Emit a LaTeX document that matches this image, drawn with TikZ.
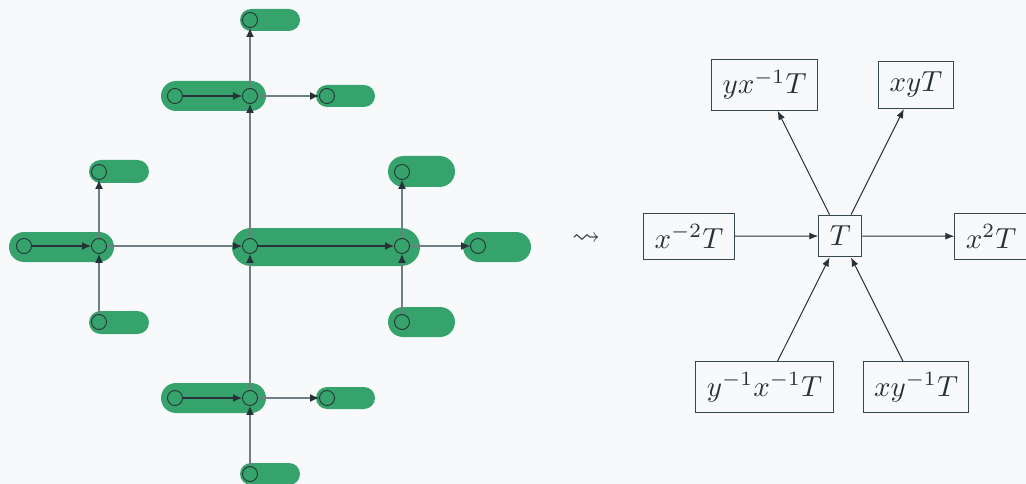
\documentclass[tikz,border=0pt]{standalone}
\usepackage{amssymb}
\usetikzlibrary{arrows.meta}
\definecolor{bg}{HTML}{F8F9FA}
\definecolor{blob}{HTML}{37A36C}
\definecolor{ink}{HTML}{263238}
\definecolor{link}{HTML}{6F7F84}
\definecolor{boxline}{HTML}{37474F}
\newcommand{\bigmath}[1]{\scalebox{2.9}{$#1$}}
\begin{document}
\begin{tikzpicture}[x=1pt,y=-1pt,
  dot/.style={circle,draw=ink,line width=0.9pt,minimum size=15pt,inner sep=0pt},
  inlink/.style={draw=ink,line width=1.2pt,-{Latex[length=9pt,width=8pt]}},
  outlink/.style={draw=link,line width=1.2pt,-{Latex[length=9pt,width=8pt,color=ink]}},
  term/.style={draw=boxline,line width=1pt,text=ink,inner sep=11pt},
  rel/.style={draw=ink,line width=1pt,-{Latex[length=9pt,width=7pt]}}]
\fill[bg] (0,0) rectangle (1026,484);
\useasboundingbox (0,0) rectangle (1026,484);
% blobs
\fill[blob, rounded corners=15pt] (9,232) rectangle (114,262);
\fill[blob, rounded corners=11.5pt] (89,160) rectangle (149,183);
\fill[blob, rounded corners=11.5pt] (89,311) rectangle (149,334);
\fill[blob, rounded corners=19pt] (232,228) rectangle (420,266);
\fill[blob, rounded corners=15pt] (463,232) rectangle (531,262);
\fill[blob, rounded corners=15.5pt] (388,156) rectangle (455,187);
\fill[blob, rounded corners=15pt] (388,307) rectangle (455,337);
\fill[blob, rounded corners=11pt] (240,9) rectangle (300,31);
\fill[blob, rounded corners=15pt] (161,81) rectangle (266,111);
\fill[blob, rounded corners=11pt] (316,85) rectangle (375,107);
\fill[blob, rounded corners=15pt] (161,383) rectangle (266,413);
\fill[blob, rounded corners=11pt] (316,387) rectangle (375,409);
\fill[blob, rounded corners=11pt] (240,463) rectangle (300,485);
% circles
\node[dot] (l1) at (24,246) {};
\node[dot] (l2) at (99,246) {};
\node[dot] (c1) at (250,246) {};
\node[dot] (c2) at (402,246) {};
\node[dot] (r1) at (478,246) {};
\node[dot] (lt) at (99,172) {};
\node[dot] (lb) at (99,322) {};
\node[dot] (rt) at (402,172) {};
\node[dot] (rb) at (402,322) {};
\node[dot] (um1) at (175,96) {};
\node[dot] (um2) at (250,96) {};
\node[dot] (ur) at (327,96) {};
\node[dot] (top) at (250,20) {};
\node[dot] (lm1) at (175,398) {};
\node[dot] (lm2) at (250,398) {};
\node[dot] (lr) at (327,398) {};
\node[dot] (bot) at (250,474) {};
% links
\draw[inlink] (l1) -- (l2);
\draw[inlink] (c1) -- (c2);
\draw[inlink] (um1) -- (um2);
\draw[inlink] (lm1) -- (lm2);
\draw[outlink] (l2) -- (lt);
\draw[outlink] (lb) -- (l2);
\draw[outlink] (l2) -- (c1);
\draw[outlink] (c2) -- (r1);
\draw[outlink] (c2) -- (rt);
\draw[outlink] (rb) -- (c2);
\draw[outlink] (c1) -- (um2);
\draw[outlink] (um2) -- (top);
\draw[outlink] (um2) -- (ur);
\draw[outlink] (lm2) -- (c1);
\draw[outlink] (lm2) -- (lr);
\draw[outlink] (bot) -- (lm2);
% squiggle
\node[text=ink] (sq) at (586,239) {\scalebox{2.8}{$\rightsquigarrow$}};
% right diagram
\node[term] (T) at (840.3,236) {\bigmath{T}};
\node[term] (xm2) at (689,236.3) {\bigmath{x^{-2}T}};
\node[term, anchor=west] (x2) at (954.3,236.3) {\bigmath{x^{2}T}};
\node[term] (yxm) at (764.5,84.7) {\bigmath{yx^{-1}T}};
\node[term] (xy) at (916,84.8) {\bigmath{xyT}};
\node[term] (ymxm) at (764.5,387.3) {\bigmath{y^{-1}x^{-1}T}};
\node[term] (xym) at (916,387.3) {\bigmath{xy^{-1}T}};
\draw[rel] (xm2) -- (T);
\draw[rel] (T) -- (x2);
\draw[rel] (T) -- (yxm);
\draw[rel] (T) -- (xy);
\draw[rel] (ymxm) -- (T);
\draw[rel] (xym) -- (T);
\end{tikzpicture}
\end{document}
